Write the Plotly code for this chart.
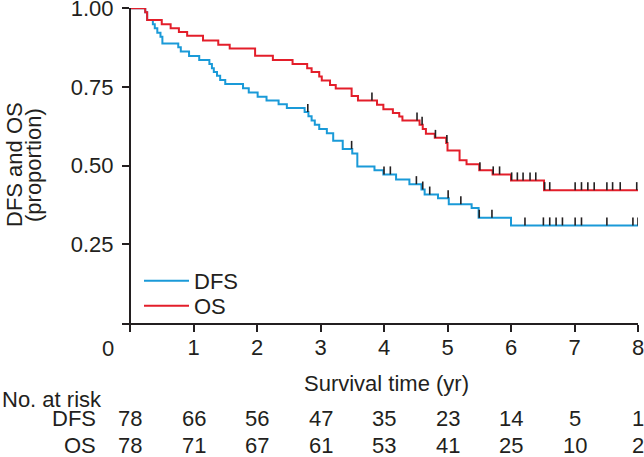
import plotly.graph_objects as go

# ---------------- data ----------------
os_times = [0.24, 0.27, 0.50, 0.64, 0.77, 0.90, 1.15, 1.39, 1.57, 1.97, 2.25, 2.56,
            2.79, 2.86, 2.98, 3.02, 3.15, 3.24, 3.49, 3.59, 3.89, 3.99, 4.14, 4.24,
            4.29, 4.56, 4.61, 4.66, 4.80, 4.98, 5.00, 5.19, 5.30, 5.50, 5.71, 6.00, 6.52]
os_surv = [0.987, 0.962, 0.949, 0.936, 0.924, 0.912, 0.897, 0.884, 0.872, 0.849, 0.835, 0.823,
           0.809, 0.797, 0.783, 0.770, 0.756, 0.745, 0.721, 0.707, 0.693, 0.679, 0.667, 0.656,
           0.643, 0.630, 0.616, 0.601, 0.588, 0.572, 0.548, 0.517, 0.504, 0.485, 0.472, 0.453, 0.422]
os_censor = [3.81, 4.52, 4.60, 4.81, 4.99, 5.51, 5.72, 5.82, 6.01, 6.10, 6.19, 6.30, 6.39,
             6.53, 6.61, 7.01, 7.11, 7.21, 7.31, 7.51, 7.60, 7.72, 7.98]

dfs_times = [0.24, 0.27, 0.36, 0.39, 0.43, 0.48, 0.51, 0.76, 0.80, 0.93, 1.09, 1.25, 1.29,
             1.32, 1.37, 1.42, 1.50, 1.78, 1.87, 2.01, 2.15, 2.34, 2.47, 2.75, 2.81, 2.86,
             2.91, 2.98, 3.10, 3.20, 3.35, 3.50, 3.58, 3.85, 3.99, 4.19, 4.40, 4.59, 4.64,
             4.85, 5.02, 5.38, 5.49, 6.00]
dfs_surv = [0.987, 0.962, 0.949, 0.936, 0.922, 0.909, 0.888, 0.876, 0.862, 0.848, 0.835, 0.823, 0.809,
            0.797, 0.785, 0.772, 0.759, 0.746, 0.732, 0.719, 0.707, 0.695, 0.683, 0.670, 0.657, 0.643,
            0.630, 0.616, 0.603, 0.579, 0.553, 0.538, 0.497, 0.485, 0.472, 0.456, 0.441, 0.424, 0.408,
            0.396, 0.377, 0.365, 0.334, 0.310]
dfs_censor = [2.80, 3.49, 4.00, 4.10, 4.51, 4.61, 4.72, 5.01, 5.21, 5.50, 5.70, 6.22, 6.51,
              6.61, 6.71, 6.81, 7.01, 7.11, 7.51, 7.92, 8.0]

risk_years = [0, 1, 2, 3, 4, 5, 6, 7, 8]
risk_dfs = [78, 66, 56, 47, 35, 23, 14, 5, 1]
risk_os = [78, 71, 67, 61, 53, 41, 25, 10, 2]

x_tick_vals = [0, 1, 2, 3, 4, 5, 6, 7, 8]
x_tick_text = ["", "1", "2", "3", "4", "5", "6", "7", "8"]
y_tick_vals = [0.25, 0.50, 0.75, 1.00]
y_tick_text = ["0.25", "0.50", "0.75", "1.00"]

# ---------------- style ----------------
W, H = 644, 457
ML, MR, MT, MB = 122, 6, 8, 134
PW, PH = W - ML - MR, H - MT - MB
X_MIN, X_MAX = -0.126, 8.0
Y_MAX = 1.0005
BLUE = "#1a9ad8"
RED = "#e31e2a"
INK = "#231f20"
FONT = "Liberation Sans, Arial, Helvetica, sans-serif"
FS = 22


def px_x(p):
    return (p - ML) / PW


def px_y(p):
    return (H - MB - p) / PH


def step_xy(times, surv, t_end):
    xs = [0.0] + list(times) + [t_end]
    ys = [1.0] + list(surv) + [surv[-1]]
    return xs, ys


def surv_at(times, surv, t):
    s = 1.0
    for ti, si in zip(times, surv):
        if ti <= t:
            s = si
    return s


def censor_marks(times, surv, cens, tick_px=8):
    dy = tick_px * Y_MAX / PH
    xs, ys = [], []
    for c in cens:
        s = surv_at(times, surv, c)
        xs += [c, c, None]
        ys += [s, s + dy, None]
    return xs, ys


fig = go.Figure()

dx, dy_ = step_xy(dfs_times, dfs_surv, 8.0)
fig.add_trace(go.Scatter(x=dx, y=dy_, mode="lines", line=dict(color=BLUE, width=2, shape="hv"),
                         name="DFS", legend="legend", cliponaxis=False))
ox, oy = step_xy(os_times, os_surv, 8.0)
fig.add_trace(go.Scatter(x=ox, y=oy, mode="lines", line=dict(color=RED, width=2, shape="hv"),
                         name="OS", legend="legend2", cliponaxis=False))

cx, cy = censor_marks(dfs_times, dfs_surv, dfs_censor)
fig.add_trace(go.Scatter(x=cx, y=cy, mode="lines", line=dict(color=INK, width=1.6),
                         showlegend=False, cliponaxis=False, hoverinfo="skip"))
cx, cy = censor_marks(os_times, os_surv, os_censor)
fig.add_trace(go.Scatter(x=cx, y=cy, mode="lines", line=dict(color=INK, width=1.6),
                         showlegend=False, cliponaxis=False, hoverinfo="skip"))

annotations = []
# corner "0"
annotations.append(dict(text="0", xref="paper", yref="paper", x=px_x(108), y=px_y(348),
                        xanchor="center", yanchor="middle", showarrow=False))
# axis titles
annotations.append(dict(text="Survival time (yr)", xref="paper", yref="paper",
                        x=px_x(302), y=px_y(383), xanchor="left", yanchor="middle", showarrow=False))
annotations.append(dict(text="DFS and OS", xref="paper", yref="paper", textangle=-90,
                        x=px_x(14), y=px_y(165), xanchor="center", yanchor="middle", showarrow=False))
annotations.append(dict(text="(proportion)", xref="paper", yref="paper", textangle=-90,
                        x=px_x(33), y=px_y(165), xanchor="center", yanchor="middle", showarrow=False))
# number at risk table
annotations.append(dict(text="No. at risk", xref="paper", yref="paper", x=px_x(0), y=px_y(399),
                        xanchor="left", yanchor="middle", showarrow=False))
annotations.append(dict(text="DFS", xref="paper", yref="paper", x=px_x(98), y=px_y(418),
                        xanchor="right", yanchor="middle", showarrow=False))
annotations.append(dict(text="OS", xref="paper", yref="paper", x=px_x(98), y=px_y(445),
                        xanchor="right", yanchor="middle", showarrow=False))
for yr, a, b in zip(risk_years, risk_dfs, risk_os):
    annotations.append(dict(text=str(a), xref="x", yref="paper", x=yr, y=px_y(418),
                            xanchor="center", yanchor="middle", showarrow=False))
    annotations.append(dict(text=str(b), xref="x", yref="paper", x=yr, y=px_y(445),
                            xanchor="center", yanchor="middle", showarrow=False))

legend_common = dict(xanchor="left", yanchor="top", bgcolor="rgba(0,0,0,0)",
                     font=dict(size=FS), tracegroupgap=0, itemwidth=45)

fig.update_layout(
    width=W, height=H,
    margin=dict(l=ML, r=MR, t=MT, b=MB, pad=0, autoexpand=False),
    paper_bgcolor="white", plot_bgcolor="white",
    font=dict(family=FONT, size=FS, color=INK),
    showlegend=True,
    legend=dict(x=px_x(139), y=px_y(260), **legend_common),
    legend2=dict(x=px_x(139), y=px_y(285), **legend_common),
    annotations=annotations,
    xaxis=dict(range=[X_MIN, X_MAX], tickvals=x_tick_vals, ticktext=x_tick_text,
               showgrid=False, zeroline=False, showline=True, linecolor=INK, linewidth=2,
               ticks="outside", ticklen=7, tickwidth=2, tickcolor=INK, automargin=False,
               ticklabelstandoff=-3, ticklabeloverflow="allow", fixedrange=True),
    yaxis=dict(range=[0, Y_MAX], tickvals=y_tick_vals, ticktext=y_tick_text,
               anchor="free", position=px_x(130), automargin=False,
               showgrid=False, zeroline=False, showline=True, linecolor=INK, linewidth=2,
               ticks="outside", ticklen=7, tickwidth=2, tickcolor=INK,
               ticklabelstandoff=4, ticklabeloverflow="allow", fixedrange=True),
)

fig.write_html("out.html", config={"displayModeBar": False},
               post_script="document.body.style.margin='0';document.body.style.overflow='hidden';")
